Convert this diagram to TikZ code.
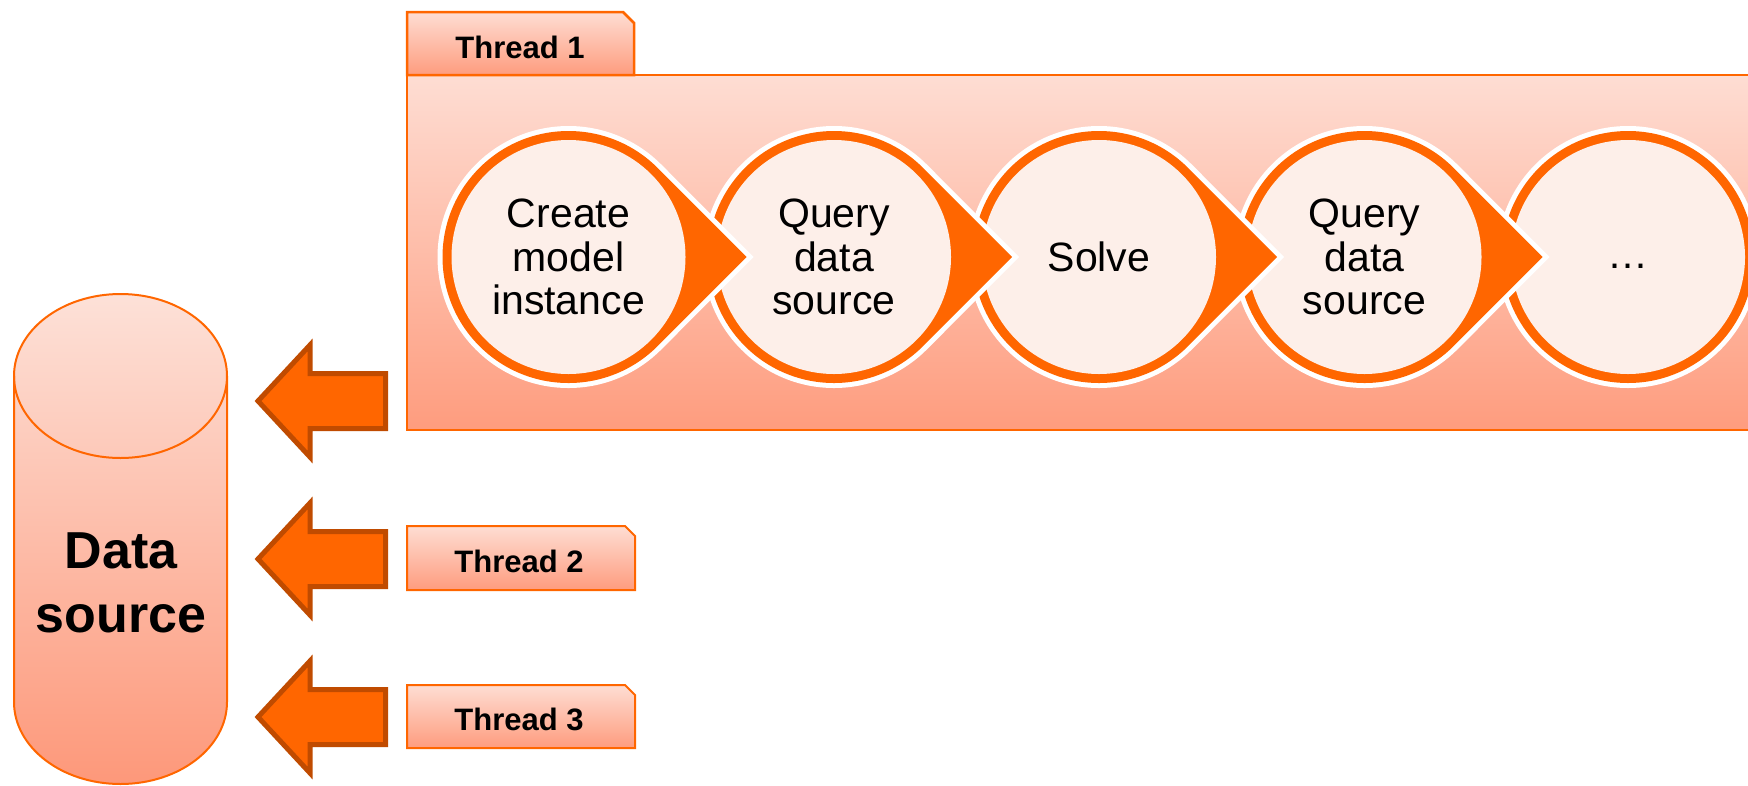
\documentclass[tikz,border=0pt]{standalone}
\usepackage{fontspec}
\setmainfont{Liberation Sans}
\definecolor{org}{HTML}{FF6600}
\definecolor{orgdark}{HTML}{C04B00}
\definecolor{peachtop}{HTML}{FEDDD3}
\definecolor{peachbot}{HTML}{FE9C7E}
\definecolor{cyltop}{HTML}{FDE1D8}
\definecolor{cylbot}{HTML}{FD987A}
\definecolor{dotfill}{HTML}{FDEFE9}
\begin{document}
\begin{tikzpicture}[x=1pt,y=-1pt,
  panel/.style={top color=peachtop,bottom color=peachbot,draw=org,line width=2.5pt},
  tabpanel/.style={top color=peachtop,bottom color=peachbot,draw=org,line width=2pt},
  tabtext/.style={font=\bfseries\fontsize{31}{34}\selectfont,inner sep=0pt},
  steptext/.style={font=\fontsize{41}{43.5}\selectfont,align=center,inner sep=0pt},
  blockarrow/.style={fill=org,draw=orgdark,line width=5pt,line join=miter},
  halo/.style={draw=white,line width=10pt},
  ring/.style={fill=org},
  inner/.style={fill=dotfill},
]
\useasboundingbox (0,0) rectangle (1748,785);
\clip (0,0) rectangle (1748,785);

% main thread panel
\path[panel] (1760,75) -- (407,75) -- (407,430) -- (1760,430) -- cycle;
\path[panel] (407,12) -- (623,12) -- (634,23) -- (634,75) -- (407,75) -- cycle;
\node[tabtext] (t1) at (520,47) {Thread 1};

% last circle
\path[halo] (1628,257) circle[radius=126];
\path[ring] (1628,257) circle[radius=126];
\path[inner] (1628,257) circle[radius=117];

% teardrops, right to left
\foreach \cx in {1364.5,1099,834,568.5}{
  \path[halo] (\cx+178,257) -- (\cx+89.1,346.1) arc[start angle=45,end angle=315,radius=126] -- cycle;
  \path[ring] (\cx+178,257) -- (\cx+89.1,346.1) arc[start angle=45,end angle=315,radius=126] -- cycle;
  \path[inner] (\cx,257) circle[radius=117];
}

\node[steptext] (s1) at (568.5,257) {Create\\model\\instance};
\node[steptext] (s2) at (834,257) {Query\\data\\source};
\node[steptext] (s3) at (1099,257) {Solve};
\node[steptext] (s4) at (1364.5,257) {Query\\data\\source};
\node[steptext,anchor=base] (s5) at (1628,268) {…};

% data source cylinder
\path[top color=cyltop,bottom color=cylbot,draw=org,line width=2pt]
  (14,376) arc[start angle=180,end angle=360,x radius=106.5,y radius=82]
  -- (227,702) arc[start angle=0,end angle=180,x radius=106.5,y radius=82] -- cycle;
\draw[org,line width=2pt] (14,376) arc[start angle=180,end angle=0,x radius=106.5,y radius=82];
\node[font=\bfseries\fontsize{52}{64}\selectfont,align=center,inner sep=0pt] (ds) at (121,583) {Data\\source};

% block arrows
\foreach \c in {401,559,717}{
  \path[blockarrow] (258,\c) -- (310,\c-56) -- (310,\c-27.5) -- (385.5,\c-27.5)
    -- (385.5,\c+27.5) -- (310,\c+27.5) -- (310,\c+56) -- cycle;
}

% other threads
\path[tabpanel] (407,526) -- (625,526) -- (635,536) -- (635,590) -- (407,590) -- cycle;
\node[tabtext] (t2) at (519,561) {Thread 2};
\path[tabpanel] (407,685) -- (625,685) -- (635,695) -- (635,748) -- (407,748) -- cycle;
\node[tabtext] (t3) at (519,719) {Thread 3};
\end{tikzpicture}
\end{document}
